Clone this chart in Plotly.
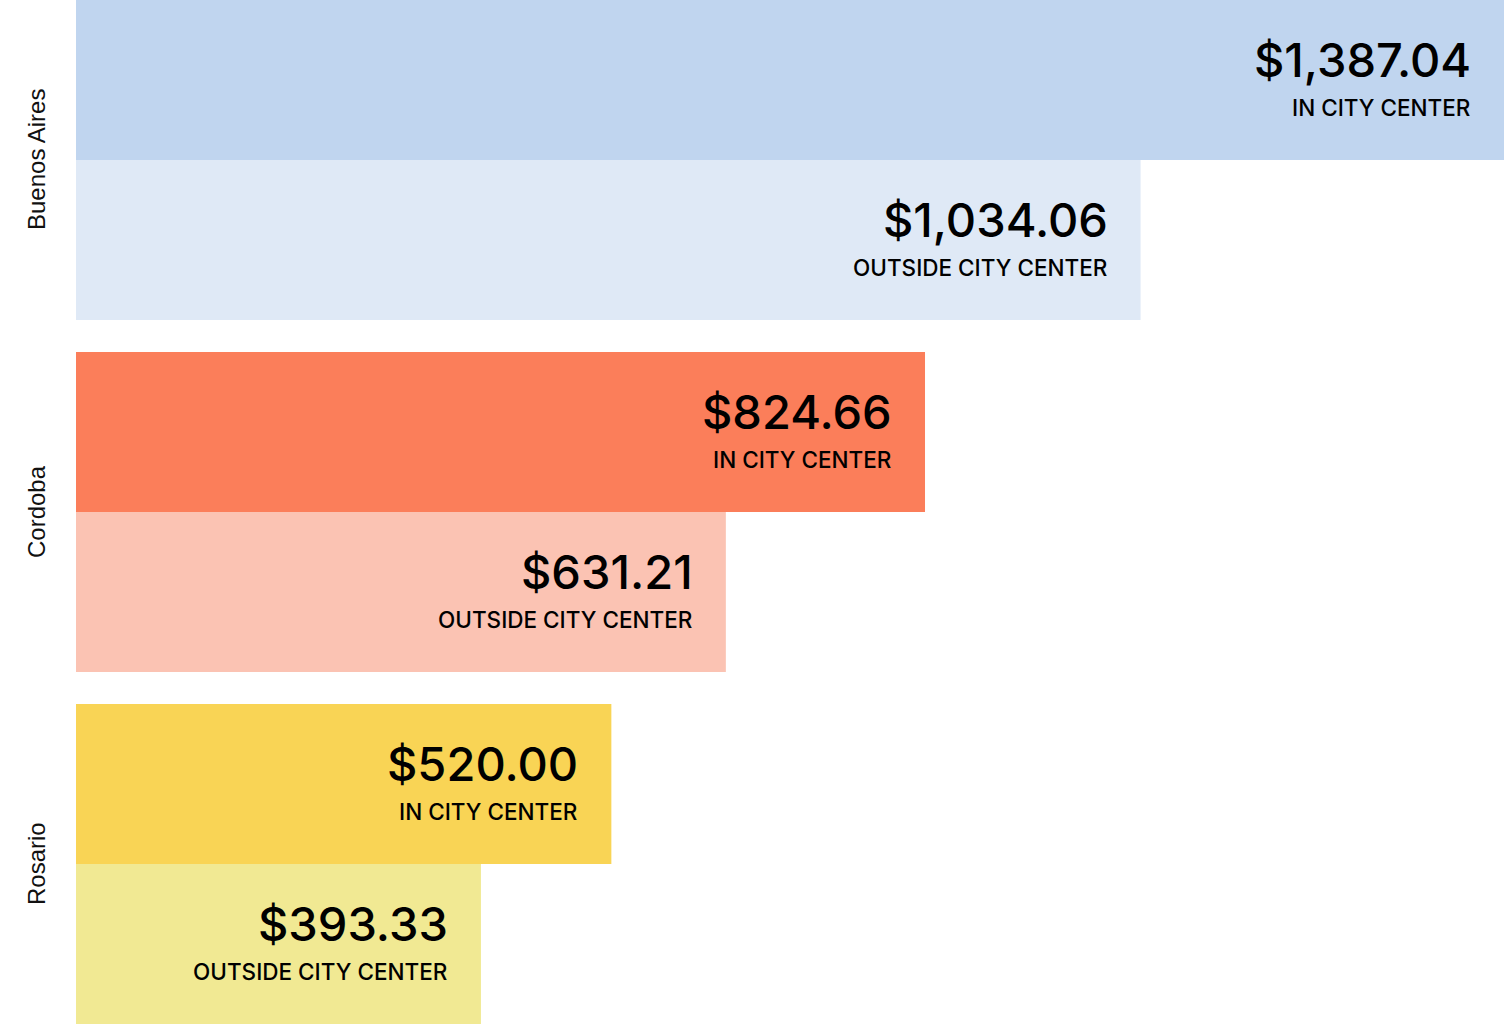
import plotly.graph_objects as go

cities = ["Buenos Aires", "Cordoba", "Rosario"]
in_center = [1387.04, 824.66, 520.00]
outside_center = [1034.06, 631.21, 393.33]
in_label = "IN CITY CENTER"
out_label = "OUTSIDE CITY CENTER"
in_colors = ["#c0d5ef", "#fb7e5a", "#f9d455"]
out_colors = ["#dfe9f6", "#fbc3b3", "#f1e993"]

gap_frac = 32 / 352

fig = go.Figure()
fig.add_trace(go.Bar(y=cities, x=in_center, orientation="h",
                     marker=dict(color=in_colors, line=dict(width=0)),
                     hoverinfo="skip"))
fig.add_trace(go.Bar(y=cities, x=outside_center, orientation="h",
                     marker=dict(color=out_colors, line=dict(width=0)),
                     hoverinfo="skip"))

annotations = []
font_val = dict(family="Inter, sans-serif", size=47, color="#000000", weight=500)
font_lab = dict(family="Inter, sans-serif", size=22.5, color="#000000", weight=500)
for c, v_in, v_out in zip(cities, in_center, outside_center):
    for v, lab, sh in [(v_in, in_label, 80), (v_out, out_label, -80)]:
        annotations.append(dict(x=v, y=c, xref="x", yref="y", text=f"${v:,.2f}",
                                showarrow=False, xanchor="right", yanchor="middle",
                                xshift=-31, yshift=sh + 21, font=font_val))
        annotations.append(dict(x=v, y=c, xref="x", yref="y", text=lab,
                                showarrow=False, xanchor="right", yanchor="middle",
                                xshift=-32, yshift=sh - 27.5, font=font_lab))
    annotations.append(dict(x=0, y=c, xref="paper", yref="y", text=c, textangle=-90,
                            showarrow=False, xanchor="center", yanchor="middle",
                            xshift=-40, font=dict(family="Liberation Sans, Arial, sans-serif",
                                                  size=24, color="#111111")))

fig.update_layout(
    barmode="group",
    bargap=gap_frac,
    bargroupgap=0,
    showlegend=False,
    width=1504, height=1024,
    margin=dict(l=76, r=0, t=0, b=0),
    paper_bgcolor="white", plot_bgcolor="white",
    xaxis=dict(range=[0, max(in_center)], visible=False, fixedrange=True),
    yaxis=dict(range=[2.5 - gap_frac / 2, -0.5 + gap_frac / 2], showticklabels=False,
               showgrid=False, zeroline=False, showline=False, ticks="", fixedrange=True),
    annotations=annotations,
)

fig.write_html("out.html", config={"displayModeBar": False},
               post_script="document.body.style.margin='0';document.body.style.overflow='hidden';")
